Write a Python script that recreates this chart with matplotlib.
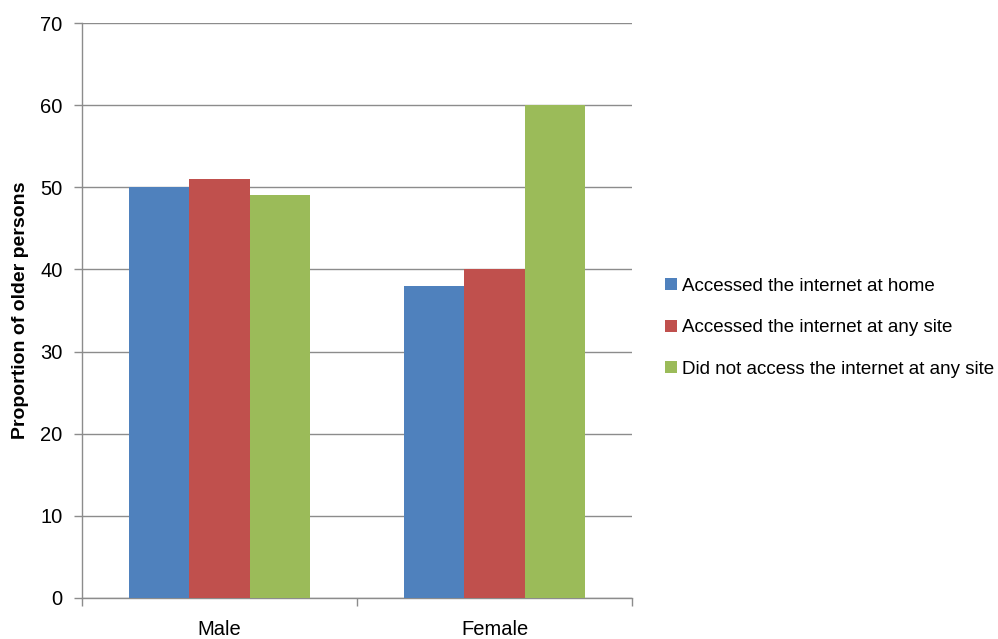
import matplotlib
matplotlib.use("Agg")
import matplotlib.pyplot as plt
from matplotlib import font_manager
import numpy as np

categories = ["Male", "Female"]
series_names = ["Accessed the internet at home",
                "Accessed the internet at any site",
                "Did not access the internet at any site"]
home = [50, 38]
any_site = [51, 40]
no_access = [49, 60]
colors = ["#4F81BD", "#C0504D", "#9BBB59"]

names = {f.name for f in font_manager.fontManager.ttflist}
fam = ["Liberation Sans Narrow"] if "Liberation Sans Narrow" in names else ["Liberation Sans"]
plt.rcParams['font.family'] = fam + ["DejaVu Sans"]

fig = plt.figure(figsize=(9.98, 6.39), dpi=100)
ax = fig.add_axes([0.0822, 0.0642, 0.5511, 0.8998])

x = np.arange(len(categories))
w = 0.22
for i, (vals, c, n) in enumerate(zip([home, any_site, no_access], colors, series_names)):
    ax.bar(x + (i - 1) * w, vals, width=w, color=c, label=n, zorder=3)

ax.set_xlim(-0.5, 1.5)
ax.set_ylim(0, 70)
ax.set_yticks(range(0, 71, 10))
ax.yaxis.grid(True, color="#8C8C8C", linewidth=1.0, zorder=0)
ax.set_xticks([-0.5, 0.5, 1.5], minor=False)
ax.set_xticklabels([])
ax.set_xticks(x, minor=True)
ax.set_xticklabels(categories, minor=True, fontsize=14.5)
ax.tick_params(axis='x', which='minor', length=0, pad=16)
ax.tick_params(axis='x', which='major', length=6, color="#8C8C8C", width=1)
ax.tick_params(axis='y', length=6, color="#8C8C8C", width=1, labelsize=14.5, pad=8)
for s in ["top", "right"]:
    ax.spines[s].set_visible(False)
for s in ["left", "bottom"]:
    ax.spines[s].set_color("#8C8C8C")
    ax.spines[s].set_linewidth(1)
ax.set_ylabel("Proportion of older persons", fontsize=14, fontweight="bold", labelpad=8)

ax.legend(loc="center left", bbox_to_anchor=(1.03, 0.47), frameon=False, fontsize=13.5,
          handlelength=0.6, handleheight=0.6, handletextpad=0.3, labelspacing=1.3)

fig.savefig("out.png", dpi=100)
